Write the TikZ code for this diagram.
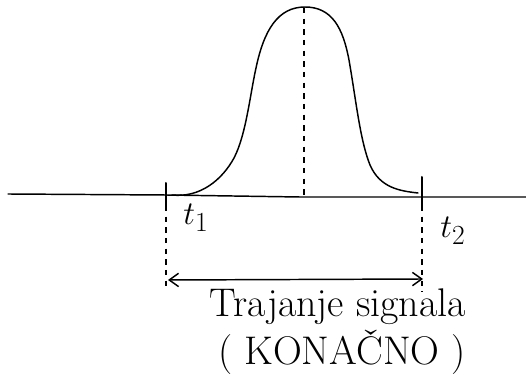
\documentclass[tikz,border=0pt]{standalone}
\usetikzlibrary{arrows.meta}
\tikzset{
  ink/.style={line width=1.1pt, line cap=round, line join=round, black},
  guide/.style={line width=0.9pt, dash pattern=on 4pt off 4pt, black},
  lbl/.style={font=\fontsize{28}{32}\selectfont, inner sep=0pt},
  txt/.style={font=\fontsize{30}{34}\selectfont, inner sep=0pt},
  span/.style={ink, {Straight Barb[length=7pt,width=10pt]}-{Straight Barb[length=7pt,width=10pt]}}
}
\begin{document}
\begin{tikzpicture}[x=0.75pt,y=-0.75pt]
\useasboundingbox (0,0) rectangle (526,391);
% axis
\coordinate (axL) at (8,194);
\coordinate (axR) at (526,197);
\draw[ink] (axL) -- (166,195) -- (300,197) -- (axR);
% pulse
\coordinate (f1) at (172,195);
\coordinate (f2) at (418,193);
\draw[ink] (f1) .. controls (200,198) and (222,180) .. (234,158)
  .. controls (246,135) and (250,95) .. (256,68)
  .. controls (264,30) and (278,7) .. (305,7)
  .. controls (332,7) and (343,28) .. (349,60)
  .. controls (356,100) and (360,140) .. (370,165)
  .. controls (380,188) and (400,191) .. (f2);
% centre dashed line
\coordinate (peak) at (304,8);
\coordinate (base) at (304,196);
\draw[guide] (peak) -- (base);
% markers
\coordinate (m1t) at (166,183);
\coordinate (m1b) at (166,206);
\coordinate (m1e) at (166,288);
\coordinate (m2t) at (422,177);
\coordinate (m2b) at (422,206);
\coordinate (m2e) at (422,292);
\draw[ink, line width=1.5pt] (m1t) -- (m1b);
\draw[ink, line width=1.5pt] (m2t) -- (m2b);
\draw[guide] (m1b) -- (m1e);
\draw[guide] (m2b) -- (m2e);
% span arrow
\coordinate (a1) at (168,280);
\coordinate (a2) at (423,279);
\draw[span] (a1) -- (a2);
% labels
\node[lbl] (t1) at (196,218) {$t_1$};
\node[lbl] (t2) at (453,231) {$t_2$};
\node[txt] (l1) at (338,307) {Trajanje signala};
\node[txt] (l2) at (342,352) {( KONAČNO )};
\end{tikzpicture}
\end{document}
